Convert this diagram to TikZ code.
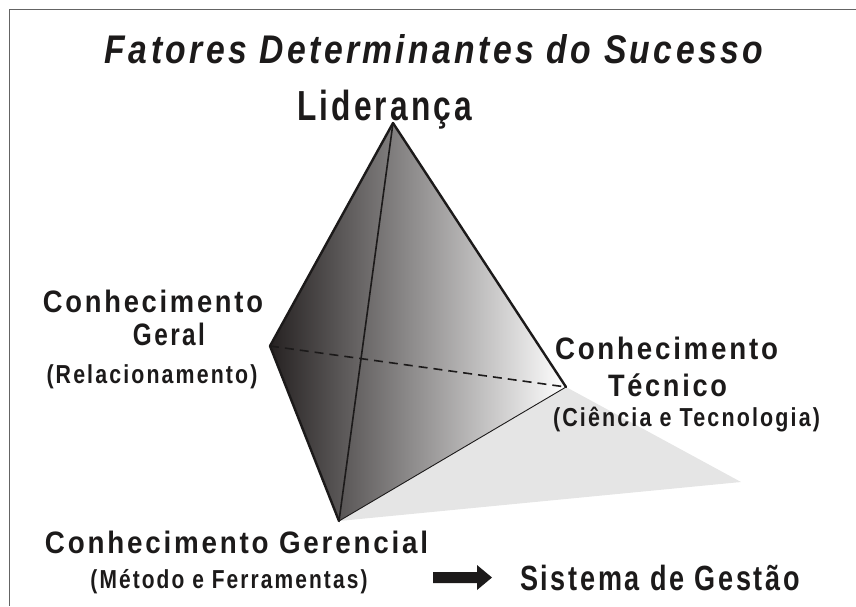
\documentclass[tikz,border=0pt]{standalone}
\usepackage{fontspec}
\usepackage{graphicx}
\setmainfont{Liberation Sans}
\newfontfamily\labfont{Liberation Sans}[LetterSpace=10]
\definecolor{ink}{RGB}{28,26,26}
\definecolor{frame}{RGB}{100,100,100}
\definecolor{shadowgray}{RGB}{229,229,229}
\definecolor{darkface}{RGB}{38,34,34}
\newcommand{\fittext}[3]{{\fontsize{#2}{#2}\selectfont\resizebox{#1}{\height}{#3}}}
\tikzset{
  lbl/.style={inner sep=0pt, anchor=base, text=ink, font=\labfont\bfseries},
  ttl/.style={inner sep=0pt, anchor=base, text=ink, font=\labfont\bfseries\itshape},
  thickedge/.style={draw=ink, line width=2.4pt, line cap=round, line join=round},
  midedge/.style={draw=ink, line width=1.6pt, line cap=round},
  thinedge/.style={draw=ink, line width=0.9pt},
  hidden/.style={draw=ink, line width=1.6pt, dash pattern=on 9pt off 6pt},
  frameline/.style={draw=frame, line width=1.8pt}
}
\begin{document}
\begin{tikzpicture}[x=1pt,y=-1pt]
\useasboundingbox (0,0) rectangle (856,606);
% frame (only top and left visible)
\coordinate (f1) at (856,9.5);
\coordinate (f2) at (9.5,9.5);
\coordinate (f3) at (9.5,606);
\draw[frameline] (f1) -- (f2) -- (f3);
% vertices
\coordinate (L) at (393,123);
\coordinate (G) at (270,346);
\coordinate (T) at (566,387);
\coordinate (B) at (339,521);
\coordinate (S) at (741,482);
% shadow
\fill[shadowgray] (B) -- (T) -- (S) -- cycle;
% tetrahedron faces
\shade[left color=darkface, right color=white] (L) -- (G) -- (B) -- (T) -- cycle;
% edges
\draw[hidden] (G) -- (T);
\draw[thinedge] (B) -- (T);
\draw[midedge] (L) -- (B);
\draw[thickedge] (G) -- (B);
\draw[thickedge] (T) -- (L) -- (G);
% texts
\node[ttl] (title) at (434,63) {\fittext{658pt}{40pt}{Fatores Determinantes do Sucesso}};
\node[lbl] (lid) at (384.5,120) {\fittext{175pt}{42pt}{Liderança}};
\node[lbl] (cg1) at (153,312) {\fittext{220pt}{31pt}{Conhecimento}};
\node[lbl] (cg2) at (169,345) {\fittext{72pt}{31pt}{Geral}};
\node[lbl] (cg3) at (152,383) {\fittext{211pt}{26pt}{(Relacionamento)}};
\node[lbl] (ct1) at (666.5,359) {\fittext{223pt}{31pt}{Conhecimento}};
\node[lbl] (ct2) at (667.5,396) {\fittext{119pt}{31pt}{Técnico}};
\node[lbl] (ct3) at (686.5,426) {\fittext{267pt}{26pt}{(Ciência e Tecnologia)}};
\node[lbl] (cm1) at (236.5,553) {\fittext{383pt}{31pt}{Conhecimento Gerencial}};
\node[lbl] (cm2) at (229,588) {\fittext{277pt}{26pt}{(Método e Ferramentas)}};
\node[lbl] (sg) at (660,590) {\fittext{280pt}{35pt}{Sistema de Gestão}};
% block arrow
\fill[ink] (433,572) -- (477,572) -- (477,565) -- (492,577.5) -- (477,590) -- (477,583) -- (433,583) -- cycle;
\end{tikzpicture}
\end{document}
